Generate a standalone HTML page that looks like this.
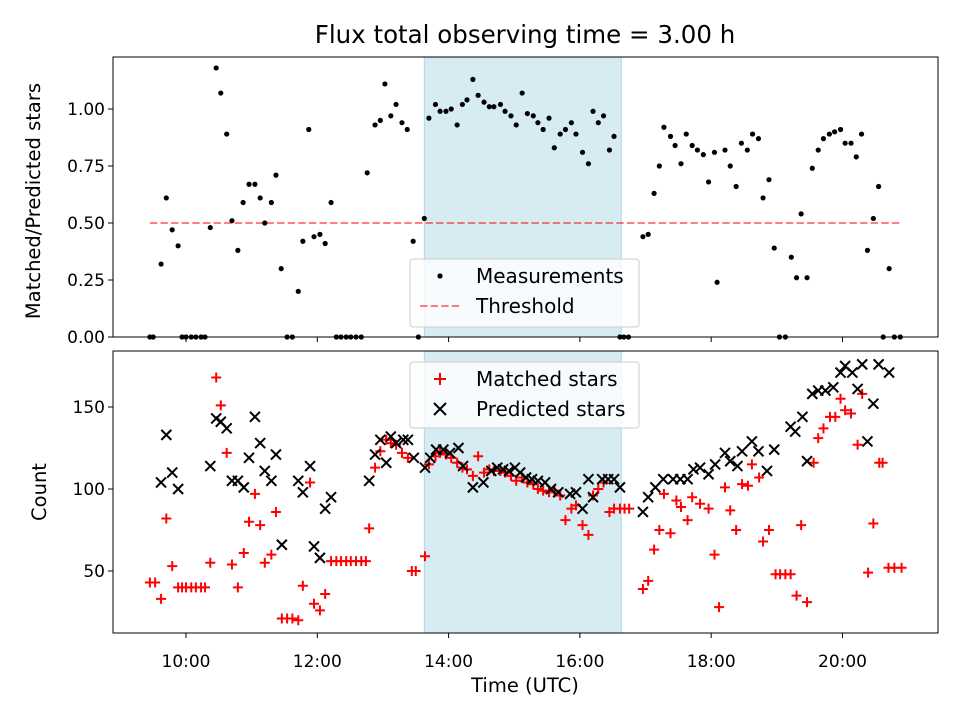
<!DOCTYPE html>
<html><head><meta charset="utf-8"><style>
html,body{margin:0;padding:0;background:#fff;}
svg{display:block;font-family:"DejaVu Sans","Liberation Sans",sans-serif;}
</style></head><body>
<svg id="c" width="960" height="720" viewBox="0 0 960 720"></svg>
<script>
const topTimes=[9.45,9.50,9.62,9.70,9.79,9.88,9.94,10.00,10.08,10.15,10.23,10.29,10.37,10.46,10.53,10.62,10.70,10.79,10.87,10.96,11.05,11.13,11.20,11.30,11.37,11.45,11.54,11.62,11.71,11.78,11.87,11.95,12.04,12.12,12.21,12.29,12.36,12.44,12.51,12.59,12.67,12.76,12.88,12.96,13.03,13.12,13.20,13.29,13.37,13.46,13.54,13.63,13.70,13.80,13.87,13.96,14.04,14.13,14.21,14.28,14.37,14.45,14.54,14.62,14.69,14.79,14.86,14.95,15.03,15.12,15.20,15.29,15.36,15.44,15.53,15.61,15.70,15.78,15.87,15.94,16.04,16.13,16.20,16.28,16.36,16.45,16.52,16.61,16.67,16.74,16.96,17.04,17.13,17.21,17.28,17.38,17.45,17.54,17.62,17.71,17.79,17.88,17.96,18.05,18.09,18.21,18.29,18.38,18.46,18.55,18.63,18.72,18.79,18.88,18.96,19.04,19.13,19.22,19.30,19.37,19.46,19.54,19.63,19.71,19.80,19.88,19.97,20.04,20.13,20.21,20.29,20.38,20.47,20.55,20.62,20.71,20.79,20.88];
const ratioValues=[0,0,0.32,0.61,0.47,0.40,0,0,0,0,0,0,0.48,1.18,1.07,0.89,0.51,0.38,0.59,0.67,0.67,0.61,0.50,0.59,0.71,0.30,0,0,0.20,0.42,0.91,0.44,0.45,0.41,0.59,0,0,0,0,0,0,0.72,0.93,0.95,1.11,0.97,1.02,0.94,0.91,0.42,0,0.52,0.96,1.02,0.99,0.99,1.00,0.93,1.02,1.04,1.13,1.06,1.03,1.01,1.01,1.02,0.99,0.97,0.93,1.07,0.98,0.97,0.94,0.91,0.96,0.83,0.89,0.91,0.94,0.89,0.81,0.76,0.99,0.94,0.97,0.82,0.88,0,0,0,0.44,0.45,0.63,0.75,0.92,0.88,0.84,0.76,0.89,0.84,0.82,0.80,0.68,0.81,0.24,0.82,0.75,0.66,0.85,0.82,0.89,0.87,0.61,0.69,0.39,0,0,0.35,0.26,0.54,0.26,0.74,0.82,0.87,0.89,0.90,0.91,0.85,0.85,0.79,0.89,0.38,0.52,0.66,0,0.30,0,0];
const matchedTimes=[9.45,9.53,9.62,9.70,9.79,9.88,9.94,10.00,10.08,10.15,10.23,10.29,10.37,10.46,10.53,10.62,10.70,10.79,10.88,10.96,11.05,11.13,11.20,11.30,11.37,11.46,11.54,11.62,11.71,11.78,11.89,11.95,12.04,12.12,12.21,12.29,12.36,12.44,12.51,12.59,12.67,12.74,12.79,12.88,12.96,13.05,13.12,13.20,13.29,13.38,13.44,13.50,13.64,13.70,13.80,13.87,13.96,14.04,14.13,14.21,14.28,14.37,14.45,14.54,14.62,14.69,14.79,14.86,14.95,15.03,15.12,15.20,15.29,15.36,15.44,15.53,15.61,15.70,15.78,15.87,15.94,16.04,16.13,16.20,16.28,16.36,16.45,16.52,16.61,16.68,16.75,16.96,17.04,17.13,17.21,17.28,17.38,17.47,17.54,17.64,17.71,17.83,17.96,18.05,18.12,18.21,18.29,18.38,18.47,18.56,18.62,18.73,18.79,18.88,18.98,19.05,19.13,19.21,19.30,19.37,19.46,19.56,19.63,19.71,19.81,19.89,19.97,20.04,20.13,20.23,20.30,20.39,20.47,20.56,20.61,20.70,20.79,20.90];
const matchedValues=[43,43,33,82,53,40,40,40,40,40,40,40,55,168,151,122,54,40,61,80,97,78,55,60,86,21,21,21,20,41,104,30,26,36,56,56,56,56,56,56,56,56,76,113,123,130,128,127,122,119,50,50,59,115,120,122,121,119,116,113,112,108,120,110,112,111,111,110,108,105,107,104,103,100,99,98,99,96,81,88,90,78,72,96,100,104,86,88,88,88,88,39,44,63,75,97,73,93,89,81,95,91,88,60,28,101,87,75,103,102,115,107,68,75,48,48,48,48,35,78,31,116,131,137,144,144,155,148,146,127,158,49,79,116,116,52,52,52];
const predictedTimes=[9.62,9.70,9.79,9.88,10.37,10.46,10.53,10.62,10.70,10.79,10.88,10.96,11.05,11.13,11.20,11.30,11.37,11.46,11.71,11.78,11.89,11.95,12.04,12.12,12.21,12.79,12.88,12.96,13.05,13.12,13.20,13.31,13.38,13.47,13.64,13.72,13.81,13.92,14.02,14.15,14.22,14.37,14.53,14.65,14.74,14.83,14.92,15.01,15.09,15.18,15.27,15.36,15.47,15.56,15.67,15.85,15.94,16.04,16.13,16.20,16.34,16.43,16.52,16.61,16.96,17.04,17.15,17.27,17.42,17.53,17.64,17.73,17.83,17.96,18.06,18.21,18.29,18.40,18.47,18.62,18.72,18.85,18.96,19.21,19.28,19.39,19.46,19.54,19.63,19.74,19.86,19.97,20.04,20.15,20.23,20.30,20.38,20.47,20.55,20.71];
const predictedValues=[104,133,110,100,114,143,141,137,105,105,101,119,144,128,111,105,121,66,105,98,114,65,58,88,95,105,121,130,116,132,128,130,130,119,113,119,124,124,122,125,114,101,104,111,113,112,111,113,110,107,106,105,104,100,98,97,98,88,106,95,106,106,106,101,86,95,101,106,106,106,106,112,113,109,115,122,117,114,123,129,123,111,124,138,135,144,117,158,160,160,162,171,175,171,161,176,129,152,176,171];
const xTickVals=[10,12,14,16,18,20];
const xTickLabels=["10:00","12:00","14:00","16:00","18:00","20:00"];
const topTickVals=[0,0.25,0.5,0.75,1.0];
const topTickLabels=["0.00","0.25","0.50","0.75","1.00"];
const botTickVals=[50,100,150];
const botTickLabels=["50","100","150"];
const shadeRange=[13.63,16.63];
const thresholdValue=0.5;
const thresholdRange=[9.45,20.88];

const NS="http://www.w3.org/2000/svg";
const svg=document.getElementById('c');
const L=113,R=938,T1=57,B1=337,T2=351,B2=633;
const xs=t=>186+(t-10)*65.65;
const y1=v=>337-v*228;
const y2=v=>407-(v-150)*1.64;
function mk(tag,attrs,parent){const e=document.createElementNS(NS,tag);for(const k in attrs)e.setAttribute(k,attrs[k]);(parent||svg).appendChild(e);return e;}
function txt(s,x,y,size,anchor,parent){const e=mk('text',{x:x,y:y,'font-size':size,'text-anchor':anchor||'middle',fill:'#000'},parent);e.textContent=s;return e;}

let t=txt("Flux total observing time = 3.00 h",525,43,24.5);



const gTop=mk('g',{});


const gBot=mk('g',{});



[[gTop,T1,B1],[gBot,T2,B2]].forEach(([g,tp,bt])=>{
  const s=mk('rect',{x:xs(shadeRange[0]),y:tp,width:xs(shadeRange[1])-xs(shadeRange[0]),height:bt-tp,fill:'#add8e6','fill-opacity':0.5,stroke:'#add8e6','stroke-width':1},g);
  
  
});

const th=mk('line',{x1:xs(thresholdRange[0]),x2:xs(thresholdRange[1]),y1:y1(thresholdValue),y2:y1(thresholdValue),stroke:'#ff0000','stroke-opacity':0.5,'stroke-width':2,'stroke-dasharray':'7.4,3.2'},gTop);



topTimes.forEach((tt,i)=>{
  const c=mk('circle',{cx:xs(tt),cy:y1(ratioValues[i]),r:2.6,fill:'#000'},gTop);
  
  
});

matchedTimes.forEach((tt,i)=>{
  const x=xs(tt),y=y2(matchedValues[i]);
  const p=mk('path',{d:`M${x-5},${y}H${x+5}M${x},${y-5}V${y+5}`,stroke:'#ff0000','stroke-width':2,fill:'none'},gBot);
  
  
});
predictedTimes.forEach((tt,i)=>{
  const x=xs(tt),y=y2(predictedValues[i]);
  const p=mk('path',{d:`M${x-5},${y-5}L${x+5},${y+5}M${x-5},${y+5}L${x+5},${y-5}`,stroke:'#000','stroke-width':2,fill:'none'},gBot);
  
  
});

[[gTop,T1,B1],[gBot,T2,B2]].forEach(([g,tp,bt],k)=>{
  const f=mk('rect',{x:L,y:tp,width:R-L,height:bt-tp,fill:'none',stroke:'#000','stroke-width':1},g);
  
  
  xTickVals.forEach((v,i)=>{
    const tk=mk('line',{x1:xs(v),x2:xs(v),y1:bt,y2:bt+5,stroke:'#000'},g);
    
    
    if(k===1){const lb=txt(xTickLabels[i],xs(v),bt+34,17,'middle',g);
      
      }
  });
});
topTickVals.forEach((v,i)=>{
  const tk=mk('line',{x1:L-5,x2:L,y1:y1(v),y2:y1(v),stroke:'#000'},gTop);
  
  
  const lb=txt(topTickLabels[i],L-8,y1(v)+6,17,'end',gTop);
  
  
});
botTickVals.forEach((v,i)=>{
  const tk=mk('line',{x1:L-5,x2:L,y1:y2(v),y2:y2(v),stroke:'#000'},gBot);
  
  
  const lb=txt(botTickLabels[i],L-8,y2(v)+6,17,'end',gBot);
  
  
});
let a=txt("Matched/Predicted stars",0,0,19.5,'middle',gTop);
a.setAttribute('transform','translate(40,201) rotate(-90)');


a=txt("Count",0,0,19.5,'middle',gBot);
a.setAttribute('transform','translate(46,492) rotate(-90)');


a=txt("Time (UTC)",525,692,19.5,'middle',gBot);



function legend(g,x,y,w,h,items,name){
  const lg=mk('g',{},g);
  
  
  mk('rect',{x:x,y:y,width:w,height:h,rx:3,fill:'#fff','fill-opacity':0.8,stroke:'#ccc'},lg);
  items.forEach((it,i)=>{
    const cy=y+17+i*30;
    const cx=x+30;
    if(it.k==='dot')mk('circle',{cx:cx,cy:cy,r:2.6,fill:'#000'},lg);
    if(it.k==='dash')mk('line',{x1:cx-20,x2:cx+20,y1:cy,y2:cy,stroke:'#ff0000','stroke-opacity':0.5,'stroke-width':2,'stroke-dasharray':'7.4,3.2'},lg);
    if(it.k==='plus')mk('path',{d:`M${cx-6},${cy}H${cx+6}M${cx},${cy-6}V${cy+6}`,stroke:'#ff0000','stroke-width':2},lg);
    if(it.k==='x')mk('path',{d:`M${cx-6},${cy-6}L${cx+6},${cy+6}M${cx-6},${cy+6}L${cx+6},${cy-6}`,stroke:'#000','stroke-width':2},lg);
    const e=txt(it.s,x+66,cy+7,20,'start',lg);
    
    
  });
}
legend(gTop,410,259,229,68,[{k:'dot',s:'Measurements'},{k:'dash',s:'Threshold'}],'ratio-legend');
legend(gBot,410,362,229,66,[{k:'plus',s:'Matched stars'},{k:'x',s:'Predicted stars'}],'count-legend');
</script>
</body></html>
